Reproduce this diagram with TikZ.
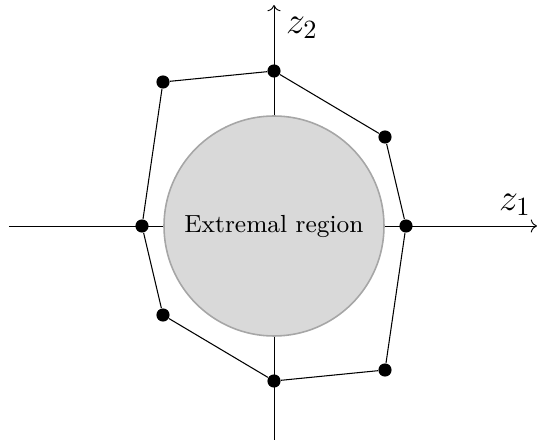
\documentclass[tikz,border=0pt]{standalone}
\usepackage{amsmath}
\usepackage{xcolor}
\usepackage{tikz}
\usetikzlibrary{arrows.meta,positioning,calc}
\tikzset{
  axis/.style={->, line width=0.35pt},
  hull/.style={line width=0.4pt},
  pt/.style={circle, fill=black, inner sep=0pt, minimum size=5pt},
  region/.style={circle, draw=gray!70, fill=gray!30, line width=0.6pt, minimum size=220*0.38pt, inner sep=0pt, align=center, font=\fontsize{9.4}{11}\selectfont},
  lbl/.style={font=\Large, inner sep=0pt}
}

\begin{document}
\begin{tikzpicture}[x=0.38pt, y=0.38pt]
\useasboundingbox (-274,-218) rectangle (263,226);
% axes
\coordinate (xl) at (-265,0);
\coordinate (xr) at (263,0);
\coordinate (yb) at (0,-214);
\coordinate (yt) at (0,221);
\draw[axis] (xl) -- (xr);
\draw[axis] (yb) -- (yt);
\node[lbl] (z1) at (241,21) {$z_1$};
\node[lbl] (z2) at (28,198) {$z_2$};
% region
\node[region] (reg) at (0,0) {Extremal region};
% hull points
\node[pt] (p1) at (0,155) {};
\node[pt] (p2) at (111,89) {};
\node[pt] (p3) at (132,0) {};
\node[pt] (p4) at (111,-144) {};
\node[pt] (p5) at (0,-155) {};
\node[pt] (p6) at (-111,-89) {};
\node[pt] (p7) at (-132,0) {};
\node[pt] (p8) at (-111,144) {};
\foreach \s/\t in {p1/p2,p2/p3,p3/p4,p4/p5,p5/p6,p6/p7,p7/p8,p8/p1} \draw[hull] (\s) -- (\t);
\end{tikzpicture}
\end{document}
